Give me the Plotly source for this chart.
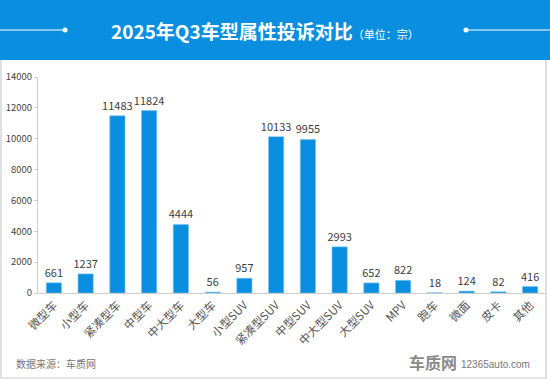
import plotly.graph_objects as go

categories = ["微型车", "小型车", "紧凑型车", "中型车", "中大型车", "大型车", "小型SUV", "紧凑型SUV",
              "中型SUV", "中大型SUV", "大型SUV", "MPV", "跑车", "微面", "皮卡", "其他"]
values = [661, 1237, 11483, 11824, 4444, 56, 957, 10133, 9955, 2993, 652, 822, 18, 124, 82, 416]
y_ticks = [0, 2000, 4000, 6000, 8000, 10000, 12000, 14000]

W, H = 550, 380
L, R, T, B = 38, 4, 77, 87
PW, PH = W - L - R, H - T - B

def px(x):
    return (x - L) / PW

def py(y):
    return (H - B - y) / PH

FONT = "Noto Sans CJK SC"
BLUE = "#0a8fe0"

fig = go.Figure(go.Bar(
    x=categories, y=values, width=0.48,
    marker=dict(color=BLUE, line=dict(color="#7cc4f0", width=0.6)),
    text=[str(v) for v in values], textposition="outside", constraintext="none",
    textfont=dict(size=11, color="#404040", family=FONT),
    cliponaxis=False, hoverinfo="skip",
))

shapes = [
    # outer frame
    dict(type="rect", xref="paper", yref="paper", x0=px(1), x1=px(546), y0=py(378), y1=py(1),
         line=dict(color="#cccccc", width=1.2), fillcolor="rgba(0,0,0,0)", layer="below"),
    # header band
    dict(type="rect", xref="paper", yref="paper", x0=px(0), x1=px(550), y0=py(60), y1=py(0),
         line=dict(width=0), fillcolor=BLUE, layer="above"),
    # decorative lines
    dict(type="line", xref="paper", yref="paper", x0=px(0), x1=px(65), y0=py(30), y1=py(30),
         line=dict(color="white", width=1.2)),
    dict(type="line", xref="paper", yref="paper", x0=px(466), x1=px(550), y0=py(30), y1=py(30),
         line=dict(color="white", width=1.2)),
    dict(type="circle", xref="paper", yref="paper", x0=px(62.5), x1=px(67.5), y0=py(32.5), y1=py(27.5),
         fillcolor="white", line=dict(width=0)),
    dict(type="circle", xref="paper", yref="paper", x0=px(463.5), x1=px(468.5), y0=py(32.5), y1=py(27.5),
         fillcolor="white", line=dict(width=0)),
]

annotations = [
    dict(xref="paper", yref="paper", x=px(265), y=py(30), xanchor="center", yanchor="middle",
         text="<b>2025年Q3车型属性投诉对比</b><span style='font-size:11px'>（单位：宗）</span>",
         showarrow=False, font=dict(size=19, color="white", family=FONT)),
    dict(xref="paper", yref="paper", x=px(14), y=py(363), xanchor="left", yanchor="middle",
         text="数据来源：车质网", showarrow=False, font=dict(size=10, color="#777777", family=FONT)),
    dict(xref="paper", yref="paper", x=px(407), y=py(362), xanchor="left", yanchor="middle",
         text="<b>车质网</b>", showarrow=False, font=dict(size=16, color="#8a8a8a", family=FONT)),
    dict(xref="paper", yref="paper", x=px(459), y=py(364), xanchor="left", yanchor="middle",
         text="12365auto.com", showarrow=False, font=dict(size=10, color="#777777", family="Liberation Sans")),
]

fig.update_layout(
    width=W, height=H,
    margin=dict(l=L, r=R, t=T, b=B, pad=0, autoexpand=False),
    paper_bgcolor="white", plot_bgcolor="white",
    showlegend=False, bargap=0.5, hovermode=False,
    shapes=shapes, annotations=annotations,
    font=dict(family=FONT),
)
fig.update_xaxes(
    showline=True, linecolor="#cccccc", linewidth=1, tickangle=-45, automargin=False,
    tickfont=dict(size=11.5, color="#555555", family=FONT), ticks="", showgrid=False,
)
fig.update_yaxes(
    range=[0, 14000], tickvals=y_ticks, ticktext=[str(v) for v in y_ticks],
    showgrid=False, zeroline=False, automargin=False,
    showline=True, linecolor="#cccccc", linewidth=1, ticks="outside", ticklen=3, tickcolor="#cccccc",
    tickfont=dict(size=9.5, color="#444444", family=FONT),
)

fig.write_html("out.html", config={"displayModeBar": False, "staticPlot": True},
               post_script="document.body.style.margin='0';document.body.style.padding='0';"
                           "document.documentElement.style.overflow='hidden';")
